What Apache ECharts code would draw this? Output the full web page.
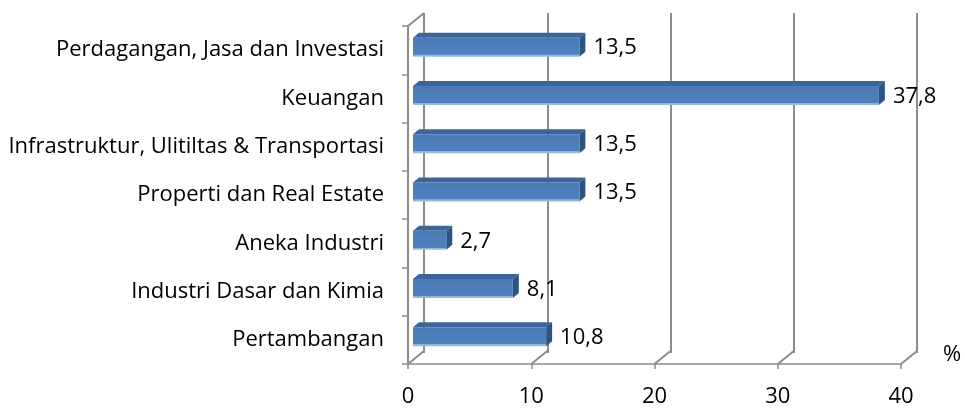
<!DOCTYPE html>
<html>
<head>
<meta charset="utf-8">
<script src="https://cdn.jsdelivr.net/npm/echarts@6/dist/echarts.min.js"></script>
<style>
  html, body { margin: 0; padding: 0; background: #fff; }
  #chart { width: 965px; height: 408px; }
</style>
</head>
<body>
<div id="chart"></div>
<script>
// sektor (atas ke bawah) dan persentase
var categories = [
  "Perdagangan, Jasa dan Investasi",
  "Keuangan",
  "Infrastruktur, Ulitiltas & Transportasi",
  "Properti dan Real Estate",
  "Aneka Industri",
  "Industri Dasar dan Kimia",
  "Pertambangan"
];
var values = [13.5, 37.8, 13.5, 13.5, 2.7, 8.1, 10.8];
var xTicks = [0, 10, 20, 30, 40];
var unitLabel = "%";

var FONT = "Open Sans";
var FONT_SIZE = 22;
var GRID_COLOR = "#8c8c8c";
// kedalaman dinding belakang dan batang (efek 3D)
var WALL_DX = 16, WALL_DY = 13;
var BAR_DX = 6, BAR_DY = 5, BAR_H = 19;

var myChart = echarts.init(document.getElementById("chart"));

// dinding / lantai: garis miring dari depan ke belakang, plus satuan di ujung sumbu
function renderWall(params, api) {
  var cs = params.coordSys;
  var v = api.value(0);
  var p = api.coord([v, 0]);
  var bottom = cs.y + cs.height;
  var children = [{
    type: "line",
    shape: { x1: p[0], y1: bottom, x2: p[0] + WALL_DX, y2: bottom - WALL_DY },
    style: { stroke: GRID_COLOR, lineWidth: 2 }
  }];
  if (v === xTicks[0]) {
    children.push({
      type: "line",
      shape: { x1: p[0], y1: cs.y, x2: p[0] + WALL_DX, y2: cs.y - WALL_DY },
      style: { stroke: GRID_COLOR, lineWidth: 2 }
    });
  }
  if (v === xTicks[xTicks.length - 1]) {
    children.push({
      type: "text",
      style: {
        x: p[0] + 51, y: bottom - 9, text: unitLabel,
        fill: "#000", font: FONT_SIZE + "px '" + FONT + "'",
        align: "center", verticalAlign: "middle"
      }
    });
  }
  return { type: "group", children: children };
}

// batang 3D: muka depan, atas, kanan + label nilai
function renderBar(params, api) {
  var idx = api.value(1);
  var start = api.coord([0, idx]);
  var end = api.coord([api.value(0), idx]);
  var x0 = start[0] + 5, x1 = end[0] + 5;
  var yc = start[1] - 3;
  var yt = yc - BAR_H / 2, yb = yc + BAR_H / 2;
  return {
    type: "group",
    children: [
      {
        type: "polygon",
        shape: { points: [[x0, yt], [x0 + BAR_DX, yt - BAR_DY], [x1 + BAR_DX, yt - BAR_DY], [x1, yt]] },
        style: { fill: "#3b6497" }
      },
      {
        type: "polygon",
        shape: { points: [[x1, yt], [x1 + BAR_DX, yt - BAR_DY], [x1 + BAR_DX, yb - BAR_DY], [x1, yb]] },
        style: { fill: "#30547f" }
      },
      {
        type: "rect",
        shape: { x: x0, y: yt, width: x1 - x0, height: BAR_H },
        style: {
          fill: new echarts.graphic.LinearGradient(0, 0, 0, 1, [
            { offset: 0, color: "#4a7ab6" },
            { offset: 0.88, color: "#4f81bd" },
            { offset: 0.9, color: "#8fb1dc" },
            { offset: 1, color: "#9dbbe0" }
          ])
        }
      },
      {
        type: "text",
        style: {
          x: x1 + BAR_DX + 8, y: yc + 1,
          text: String(api.value(0)).replace(".", ","),
          fill: "#000", font: FONT_SIZE + "px '" + FONT + "'",
          verticalAlign: "middle", align: "left"
        }
      }
    ]
  };
}

myChart.setOption({
  animation: false,
  grid: [
    { left: 408, right: 64, top: 26, bottom: 42 },
    { left: 408 + WALL_DX, right: 64 - WALL_DX, top: 26 - WALL_DY, bottom: 42 + WALL_DY }
  ],
  xAxis: [
    {
      type: "value", gridIndex: 0, min: 0, max: 40, interval: 10,
      axisLine: { show: true, lineStyle: { color: GRID_COLOR, width: 1.5 } },
      axisTick: { show: true, length: 5, lineStyle: { color: GRID_COLOR, width: 1.5 } },
      axisLabel: { color: "#000", fontFamily: FONT, fontSize: FONT_SIZE, margin: 22 },
      splitLine: { show: false }
    },
    {
      type: "value", gridIndex: 1, min: 0, max: 40, interval: 10,
      axisLine: { show: false }, axisTick: { show: false }, axisLabel: { show: false },
      splitLine: { show: true, lineStyle: { color: GRID_COLOR, width: 2 } }
    }
  ],
  yAxis: [
    {
      type: "category", gridIndex: 0, data: categories, inverse: true,
      axisLine: { show: true, lineStyle: { color: GRID_COLOR, width: 2 } },
      axisTick: { show: true, length: 6, lineStyle: { color: GRID_COLOR, width: 1.5 } },
      axisLabel: { color: "#000", fontFamily: FONT, fontSize: FONT_SIZE, margin: 24 }
    },
    {
      type: "category", gridIndex: 1, data: categories, inverse: true, show: false
    }
  ],
  series: [
    {
      type: "custom", xAxisIndex: 0, yAxisIndex: 0,
      renderItem: renderWall,
      data: xTicks.map(function (t) { return [t, 0]; }),
      silent: true, z: 1
    },
    {
      type: "custom", xAxisIndex: 0, yAxisIndex: 0,
      renderItem: renderBar,
      data: values.map(function (v, i) { return [v, i]; }),
      z: 3
    }
  ]
});
</script>
</body>
</html>
